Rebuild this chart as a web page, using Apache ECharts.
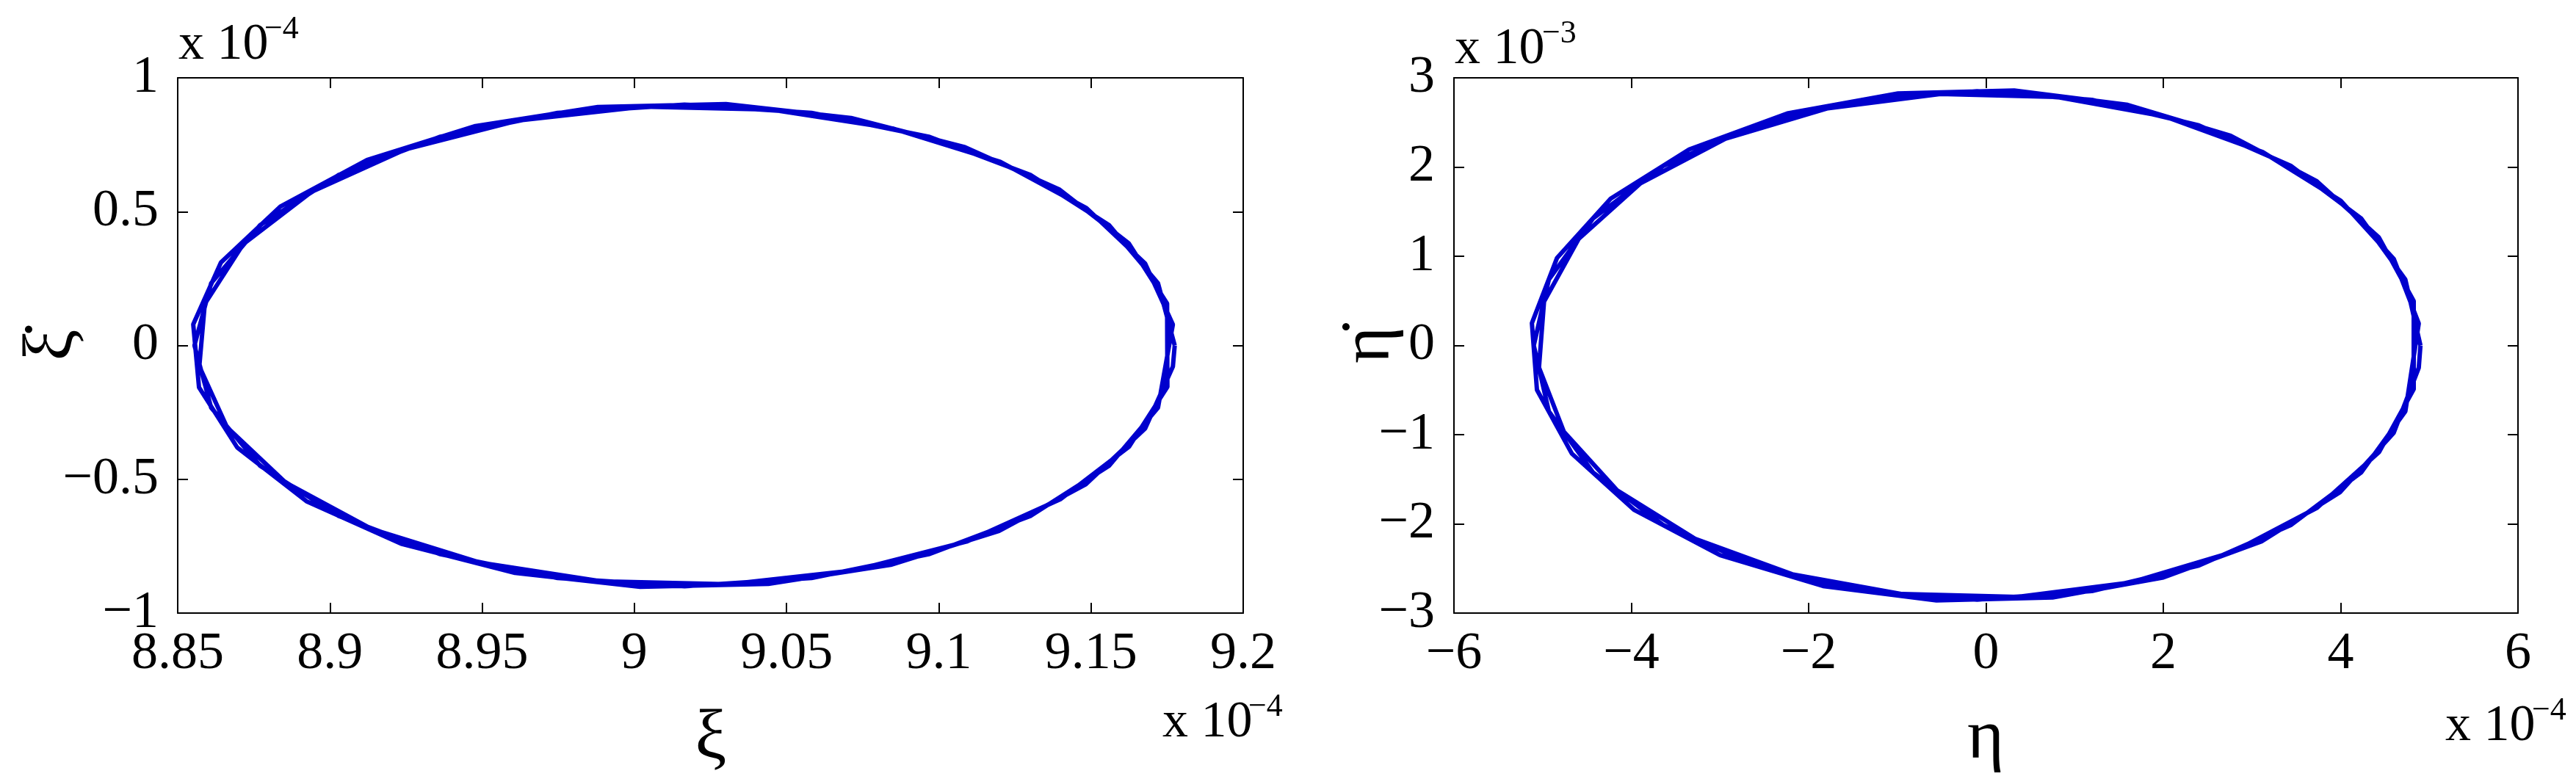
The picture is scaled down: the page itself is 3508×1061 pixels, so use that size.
<!DOCTYPE html>
<html>
<head>
<meta charset="utf-8">
<script src="https://cdn.jsdelivr.net/npm/echarts@6/dist/echarts.min.js"></script>
<style>
  html, body { margin: 0; padding: 0; background: #fff; }
  #main { width: 3508px; height: 1061px; }
</style>
</head>
<body>
<div id="main"></div>
<script>
// xi (x 1e-4) vs xi dot (x 1e-4), three overlapping loops
const xiLoopA = [[9.1775,0],[9.1720,0.233],[9.1559,0.450],[9.1303,0.636],[9.0970,0.779],[9.0582,0.869],[9.0165,0.900],[8.9748,0.869],[8.9360,0.779],[8.9027,0.636],[8.8771,0.450],[8.8610,0.233],[8.8555,0],[8.8610,-0.233],[8.8771,-0.450],[8.9027,-0.636],[8.9360,-0.779],[8.9748,-0.869],[9.0165,-0.900],[9.0582,-0.869],[9.0970,-0.779],[9.1303,-0.636],[9.1559,-0.450],[9.1720,-0.233]]
const xiLoopB = [[9.1769,0.078],[9.1678,0.306],[9.1485,0.513],[9.1202,0.686],[9.0848,0.811],[9.0449,0.881],[9.0030,0.892],[8.9621,0.841],[8.9249,0.733],[8.8941,0.575],[8.8715,0.378],[8.8589,0.155],[8.8571,-0.078],[8.8662,-0.306],[8.8855,-0.513],[8.9138,-0.686],[8.9492,-0.811],[8.9891,-0.881],[9.0310,-0.892],[9.0719,-0.841],[9.1091,-0.733],[9.1399,-0.575],[9.1625,-0.378],[9.1751,-0.155]]
const xiLoopC = [[9.1750,0.157],[9.1624,0.382],[9.1397,0.582],[9.1086,0.741],[9.0712,0.850],[9.0301,0.902],[8.9880,0.891],[8.9478,0.820],[8.9122,0.693],[8.8837,0.519],[8.8642,0.310],[8.8551,0.079],[8.8570,-0.157],[8.8696,-0.382],[8.8923,-0.582],[8.9234,-0.741],[8.9608,-0.850],[9.0019,-0.902],[9.0440,-0.891],[9.0842,-0.820],[9.1198,-0.693],[9.1483,-0.519],[9.1678,-0.310],[9.1769,-0.079]]

// eta (x 1e-4) vs eta dot (x 1e-3)
const etaLoopA = [[4.900,0],[4.730,0.738],[4.230,1.425],[3.436,2.015],[2.400,2.468],[1.194,2.753],[-0.100,2.850],[-1.394,2.753],[-2.600,2.468],[-3.636,2.015],[-4.430,1.425],[-4.930,0.738],[-5.100,0],[-4.930,-0.738],[-4.430,-1.425],[-3.636,-2.015],[-2.600,-2.468],[-1.394,-2.753],[-0.100,-2.850],[1.194,-2.753],[2.400,-2.468],[3.436,-2.015],[4.230,-1.425],[4.730,-0.738]]
const etaLoopB = [[4.881,0.247],[4.600,0.968],[4.000,1.623],[3.121,2.168],[2.025,2.565],[0.785,2.787],[-0.514,2.819],[-1.783,2.659],[-2.937,2.318],[-3.895,1.819],[-4.593,1.196],[-4.984,0.491],[-5.041,-0.247],[-4.760,-0.968],[-4.160,-1.623],[-3.281,-2.168],[-2.185,-2.565],[-0.945,-2.787],[0.354,-2.819],[1.623,-2.659],[2.777,-2.318],[3.735,-1.819],[4.433,-1.196],[4.824,-0.491]]
const etaLoopC = [[4.824,0.498],[4.430,1.213],[3.725,1.845],[2.759,2.351],[1.597,2.697],[0.318,2.859],[-0.991,2.826],[-2.241,2.601],[-3.347,2.198],[-4.232,1.646],[-4.837,0.982],[-5.121,0.250],[-5.064,-0.498],[-4.670,-1.213],[-3.965,-1.845],[-2.999,-2.351],[-1.837,-2.697],[-0.558,-2.859],[0.751,-2.826],[2.001,-2.601],[3.107,-2.198],[3.992,-1.646],[4.597,-0.982],[4.881,-0.250]]

// axis ranges / ticks
const xiRange = { min: 8.85, max: 9.2, interval: 0.05 }
const xiDotRange = { min: -1, max: 1, interval: 0.5 }
const etaRange = { min: -6, max: 6, interval: 2 }
const etaDotRange = { min: -3, max: 3, interval: 1 }

const FONT = '"Liberation Serif", "Times New Roman", serif'
const LINE = '#0000cd'

function fmt(v) {
  return String(+v.toFixed(2)).replace('-', '\u2212')
}

function xAx(grid, r, pos, labels) {
  return {
    type: 'value', gridIndex: grid, position: pos,
    min: r.min, max: r.max, interval: r.interval,
    axisLine: { onZero: false, lineStyle: { color: '#000', width: 2 } },
    axisTick: { inside: true, length: 14, lineStyle: { color: '#000', width: 2 } },
    axisLabel: { show: labels, margin: 20, color: '#000', fontFamily: FONT, fontSize: 72, formatter: fmt },
    splitLine: { show: false }
  }
}

function yAx(grid, r, pos, labels) {
  return {
    type: 'value', gridIndex: grid, position: pos,
    min: r.min, max: r.max, interval: r.interval,
    axisLine: { onZero: false, lineStyle: { color: '#000', width: 2 } },
    axisTick: { inside: true, length: 14, lineStyle: { color: '#000', width: 2 } },
    axisLabel: { show: labels, margin: 26, color: '#000', fontFamily: FONT, fontSize: 72, formatter: fmt },
    splitLine: { show: false }
  }
}

function txt(x, y, s, size, align) {
  return {
    type: 'text', x: x, y: y,
    style: { text: s, fill: '#000', font: size + 'px ' + FONT, textAlign: align || 'left', textVerticalAlign: 'bottom' }
  }
}

let myChart = echarts.init(document.getElementById('main'))
let option = {
  backgroundColor: '#fff',
  animation: false,
  grid: [
    { left: 242, top: 106, width: 1451, height: 729 },
    { left: 1980, top: 106, width: 1449, height: 729 }
  ],
  xAxis: [
    xAx(0, xiRange, 'bottom', true),
    xAx(0, xiRange, 'top', false),
    xAx(1, etaRange, 'bottom', true),
    xAx(1, etaRange, 'top', false)
  ],
  yAxis: [
    yAx(0, xiDotRange, 'left', true),
    yAx(0, xiDotRange, 'right', false),
    yAx(1, etaDotRange, 'left', true),
    yAx(1, etaDotRange, 'right', false)
  ],
  series: [
    {
      type: 'line', xAxisIndex: 0, yAxisIndex: 0, symbol: 'none', smooth: false,
      lineStyle: { color: LINE, width: 6 },
      data: [...xiLoopA, ...xiLoopB, ...xiLoopC, xiLoopA[0]]
    },
    {
      type: 'line', xAxisIndex: 2, yAxisIndex: 2, symbol: 'none', smooth: false,
      lineStyle: { color: LINE, width: 6 },
      data: [...etaLoopA, ...etaLoopB, ...etaLoopC, etaLoopA[0]]
    }
  ],
  graphic: [
    // exponent labels
    txt(243, 97, 'x 10', 70), txt(360, 62, '\u22124', 44),
    txt(1981, 103, 'x 10', 70), txt(2100, 68, '\u22123', 44),
    txt(1583, 1020, 'x 10', 70), txt(1700, 985, '\u22124', 44),
    txt(3330, 1025, 'x 10', 70), txt(3448, 990, '\u22124', 44),
    // axis titles
    txt(968, 1055, '\u03be', 96, 'center'),
    txt(2704, 1055, '\u03b7', 96, 'center'),
    { type: 'text', x: 72, y: 470, rotation: Math.PI / 2,
      style: { text: '\u03be\u0307', fill: '#000', font: '96px ' + FONT, textAlign: 'center', textVerticalAlign: 'middle' } },
    { type: 'text', x: 1866, y: 470, rotation: Math.PI / 2,
      style: { text: '\u03b7\u0307', fill: '#000', font: '96px ' + FONT, textAlign: 'center', textVerticalAlign: 'middle' } }
  ]
}

option && myChart.setOption(option)
</script>
</body>
</html>
